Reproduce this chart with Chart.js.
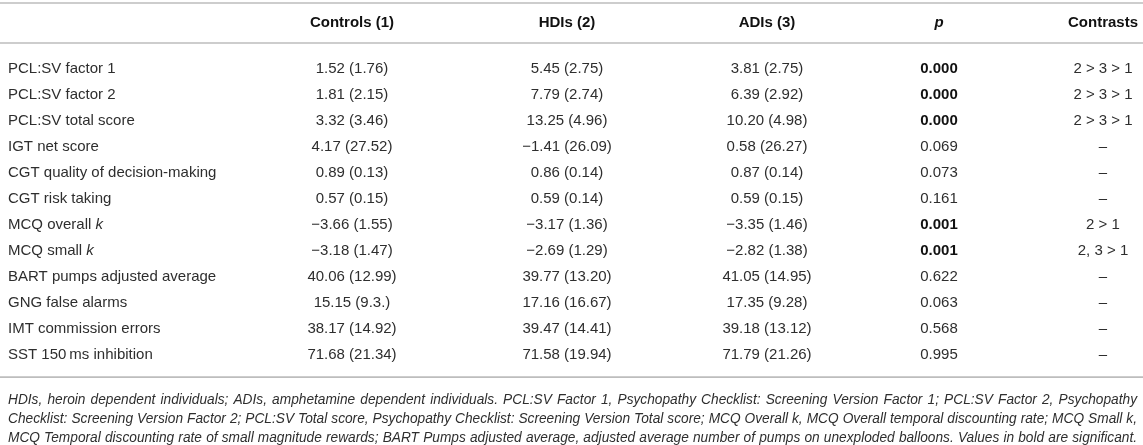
<!DOCTYPE html>
<html><head><meta charset="utf-8">
<script src="https://cdn.jsdelivr.net/npm/chart.js@4.4.1/dist/chart.umd.min.js"></script>
<style>html,body{margin:0;padding:0;background:#fff}#wrap{width:1143px;height:445px;position:relative}</style>
</head><body><div id="wrap"><canvas id="c"></canvas></div>
<script>
// ---------- data ----------
const rowLabels = ["PCL:SV factor 1","PCL:SV factor 2","PCL:SV total score","IGT net score",
  "CGT quality of decision-making","CGT risk taking","MCQ overall *k*","MCQ small *k*",
  "BART pumps adjusted average","GNG false alarms","IMT commission errors","SST 150\u2009ms inhibition"];
const headers = ["Controls (1)","HDIs (2)","ADIs (3)","*p*","Contrasts"];
const controlsMean = [1.52,1.81,3.32,4.17,0.89,0.57,-3.66,-3.18,40.06,15.15,38.17,71.68];
const controlsSD   = [1.76,2.15,3.46,27.52,0.13,0.15,1.55,1.47,12.99,"9.3.",14.92,21.34];
const hdisMean = [5.45,7.79,13.25,-1.41,0.86,0.59,-3.17,-2.69,39.77,17.16,39.47,71.58];
const hdisSD   = [2.75,2.74,4.96,26.09,0.14,0.14,1.36,1.29,13.20,16.67,14.41,19.94];
const adisMean = [3.81,6.39,10.20,0.58,0.87,0.59,-3.35,-2.82,41.05,17.35,39.18,71.79];
const adisSD   = [2.75,2.92,4.98,26.27,0.14,0.15,1.46,1.38,14.95,9.28,13.12,21.26];
const pValues  = [0.000,0.000,0.000,0.069,0.073,0.161,0.001,0.001,0.622,0.063,0.568,0.995];
const contrasts = ["2 > 3 > 1","2 > 3 > 1","2 > 3 > 1","\u2013","\u2013","\u2013","2 > 1","2, 3 > 1","\u2013","\u2013","\u2013","\u2013"];
const footnotes = [
 "HDIs, heroin dependent individuals; ADIs, amphetamine dependent individuals. PCL:SV Factor 1, Psychopathy Checklist: Screening Version Factor 1; PCL:SV Factor 2, Psychopathy",
 "Checklist: Screening Version Factor 2; PCL:SV Total score, Psychopathy Checklist: Screening Version Total score; MCQ Overall k, MCQ Overall temporal discounting rate; MCQ Small k,",
 "MCQ Temporal discounting rate of small magnitude rewards; BART Pumps adjusted average, adjusted average number of pumps on unexploded balloons. Values in bold are significant."
];

// ---------- layout ----------
const W = 1143, H = 445;
const colX = [8, 352, 567, 767, 939, 1103];   // label column left edge, then column centres
const rowTop = 69, rowStep = 26;               // pixel of first row, row pitch
const headerRow = -1.77;
const ruleRows = [-2.54, -1.0, 11.85];
const footRows = [12.73, 13.46, 14.19];
const FONT = "'Liberation Sans', Arial, Helvetica, sans-serif";
const SIZE = 15;
const TEXT = '#2e2e2e', BOLD = '#111';

function fmt(v){ if (typeof v !== 'number') return v; const s = Math.abs(v).toFixed(2); return (v < 0 ? '\u2212' : '') + s; }
const cell = (m, s) => m.map((v,i) => fmt(v) + ' (' + fmt(s[i]) + ')');
const pts = (x) => rowLabels.map((_, i) => ({x: x, y: i}));

function font(bold, italic, size){ return (italic?'italic ':'') + (bold?'bold ':'') + size + 'px ' + FONT; }
function drawRich(ctx, text, x, y, align, bold, size){
  const segs = text.split('*');
  let total = 0;
  segs.forEach((s, k) => { ctx.font = font(bold, k % 2 === 1, size); total += ctx.measureText(s).width; });
  let cx = align === 'center' ? x - total/2 : (align === 'right' ? x - total : x);
  ctx.fillStyle = bold ? BOLD : TEXT;
  ctx.textBaseline = 'middle'; ctx.textAlign = 'left';
  segs.forEach((s, k) => { ctx.font = font(bold, k % 2 === 1, size); ctx.fillText(s, cx, y); cx += ctx.measureText(s).width; });
}

const tablePlugin = {
  id: 'tableText',
  afterDatasetsDraw(chart){
    const ctx = chart.ctx, xs = chart.scales.x, ys = chart.scales.y;
    ctx.save();
    ctx.strokeStyle = '#bdbdbd'; ctx.lineWidth = 1.6;
    ruleRows.forEach(r => { const py = ys.getPixelForValue(r); ctx.beginPath(); ctx.moveTo(xs.left, py); ctx.lineTo(xs.right, py); ctx.stroke(); });
    headers.forEach((h, i) => drawRich(ctx, h, xs.getPixelForValue(colX[i+1]), ys.getPixelForValue(headerRow), 'center', true, SIZE));
    chart.data.datasets.forEach((ds, di) => {
      chart.getDatasetMeta(di).data.forEach((el, j) => {
        drawRich(ctx, ds.texts[j], el.x, el.y, ds.textAlign, ds.boldFn ? ds.boldFn(j) : false, SIZE);
      });
    });
    // footnote: italic, sized to the widest line, justified
    const left = xs.getPixelForValue(colX[0]), right = xs.right - 6, target = right - left;
    ctx.font = font(false, true, 14);
    const maxNat = Math.max(...footnotes.map(l => ctx.measureText(l).width));
    const fsize = Math.min(14.5, 14 * (target - 4) / maxNat);
    ctx.font = font(false, true, fsize); ctx.fillStyle = TEXT; ctx.textBaseline = 'middle'; ctx.textAlign = 'left';
    footnotes.forEach((line, li) => {
      const words = line.split(' ');
      const widths = words.map(w => ctx.measureText(w).width);
      const sum = widths.reduce((a,b)=>a+b,0);
      const gap = (target - sum) / (words.length - 1);
      let cx = left; const py = ys.getPixelForValue(footRows[li]);
      words.forEach((w, k) => { ctx.fillText(w, cx, py); cx += widths[k] + gap; });
    });
    ctx.restore();
  }
};

const base = {pointRadius: 0, pointHoverRadius: 0, showLine: false};
new Chart(document.getElementById('c'), {
  type: 'scatter',
  data: { datasets: [
    {...base, label: 'Measure',  data: pts(colX[0]), texts: rowLabels, textAlign: 'left'},
    {...base, label: headers[0], data: pts(colX[1]), texts: cell(controlsMean, controlsSD), textAlign: 'center'},
    {...base, label: headers[1], data: pts(colX[2]), texts: cell(hdisMean, hdisSD), textAlign: 'center'},
    {...base, label: headers[2], data: pts(colX[3]), texts: cell(adisMean, adisSD), textAlign: 'center'},
    {...base, label: 'p',        data: pts(colX[4]), texts: pValues.map(v => v.toFixed(3)), textAlign: 'center', boldFn: j => pValues[j] < 0.05},
    {...base, label: headers[4], data: pts(colX[5]), texts: contrasts, textAlign: 'center'}
  ]},
  options: {
    responsive: true, maintainAspectRatio: false, animation: false,
    layout: {padding: 0},
    events: [],
    plugins: {legend: {display: false}, tooltip: {enabled: false}, title: {display: false}},
    scales: {
      x: {type: 'linear', display: false, min: 0, max: W},
      y: {type: 'linear', display: false, reverse: true, min: -rowTop/rowStep, max: (H - rowTop)/rowStep}
    }
  },
  plugins: [tablePlugin]
});
</script></body></html>
